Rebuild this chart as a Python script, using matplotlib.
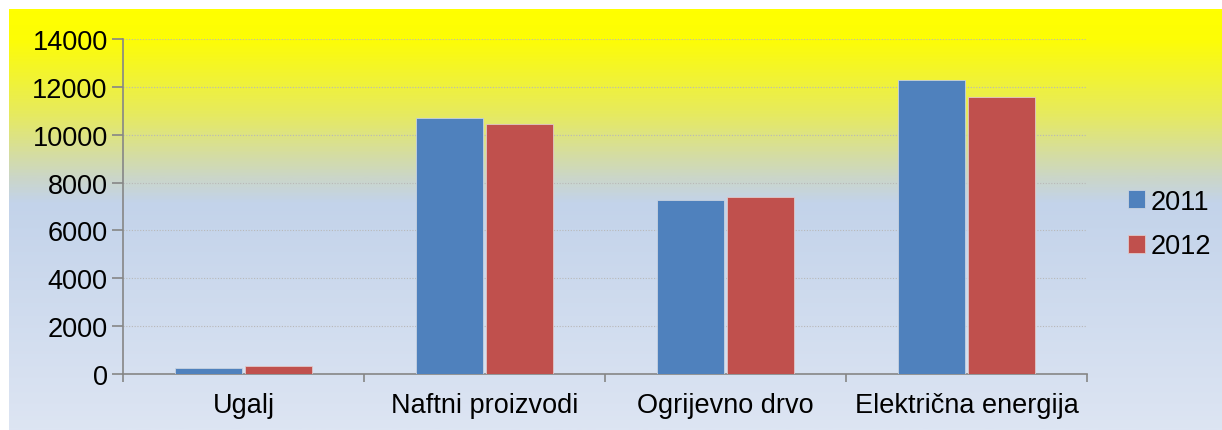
import numpy as np
import matplotlib
matplotlib.use("Agg")
import matplotlib.pyplot as plt
from matplotlib.colors import LinearSegmentedColormap

plt.rcParams["font.family"] = ["Liberation Sans", "DejaVu Sans"]

categories = ["Ugalj", "Naftni proizvodi", "Ogrijevno drvo", "Električna energija"]
years = ["2011", "2012"]
values_2011 = [250, 10700, 7270, 12280]
values_2012 = [330, 10460, 7400, 11590]
y_ticks = [0, 2000, 4000, 6000, 8000, 10000, 12000, 14000]

COLORS = ["#4F81BD", "#C0504D"]
AXIS_COLOR = "#868686"
FS = 19.5

fig = plt.figure(figsize=(12.22, 4.31), dpi=100, facecolor="white")

# yellow -> pale blue backdrop behind the whole chart
bg = fig.add_axes([9 / 1222, 0, 1 - 9 / 1222, 421 / 431], zorder=-10)
grad_cmap = LinearSegmentedColormap.from_list("bg", [
    (0.0, "#FFFF00"),
    (0.07, "#FDFD06"),
    (0.25, "#E6EA60"),
    (0.40, "#CBD6C8"),
    (0.46, "#C3D3EA"),
    (1.0, "#DDE5F3"),
])
bg.imshow(np.linspace(0, 1, 400).reshape(-1, 1), aspect="auto", cmap=grad_cmap,
          extent=[0, 1, 0, 1], origin="upper")
bg.set_axis_off()

ax = fig.add_axes([123 / 1222, 56 / 431, (1087 - 123) / 1222, 335 / 431])
ax.patch.set_alpha(0)

x = np.arange(len(categories))
w = 0.28
off = 0.145
ax.bar(x - off, values_2011, w, color=COLORS[0], edgecolor="#C8D2E0", linewidth=0.6,
       label=years[0], zorder=3)
ax.bar(x + off, values_2012, w, color=COLORS[1], edgecolor="#E0C8C8", linewidth=0.6,
       label=years[1], zorder=3)

ax.set_xlim(-0.5, len(categories) - 0.5)
ax.set_ylim(0, 14000)
ax.set_yticks(y_ticks)
ax.set_yticklabels([str(v) for v in y_ticks], fontsize=FS)
ax.yaxis.grid(True, linestyle=(0, (1, 1.5)), color="#B8B8B8", linewidth=0.8, zorder=0)

ax.set_xticks(x)
ax.set_xticklabels(categories, fontsize=FS)
ax.set_xticks(np.arange(len(categories) + 1) - 0.5, minor=True)
ax.tick_params(axis="x", which="major", length=0, pad=13)
ax.tick_params(axis="x", which="minor", length=6, color=AXIS_COLOR, width=1.2)
ax.tick_params(axis="y", length=8, color=AXIS_COLOR, width=1.2, pad=3)

for side in ["top", "right"]:
    ax.spines[side].set_visible(False)
for side in ["left", "bottom"]:
    ax.spines[side].set_color(AXIS_COLOR)
    ax.spines[side].set_linewidth(1.2)

leg = fig.legend(loc="center left", bbox_to_anchor=(1128 / 1222, 206 / 431), frameon=False,
                 fontsize=FS, handlelength=0.62, handleheight=0.62, handletextpad=0.2,
                 labelspacing=0.7, borderpad=0, borderaxespad=0)

fig.savefig("out.png", dpi=100, facecolor="white")
